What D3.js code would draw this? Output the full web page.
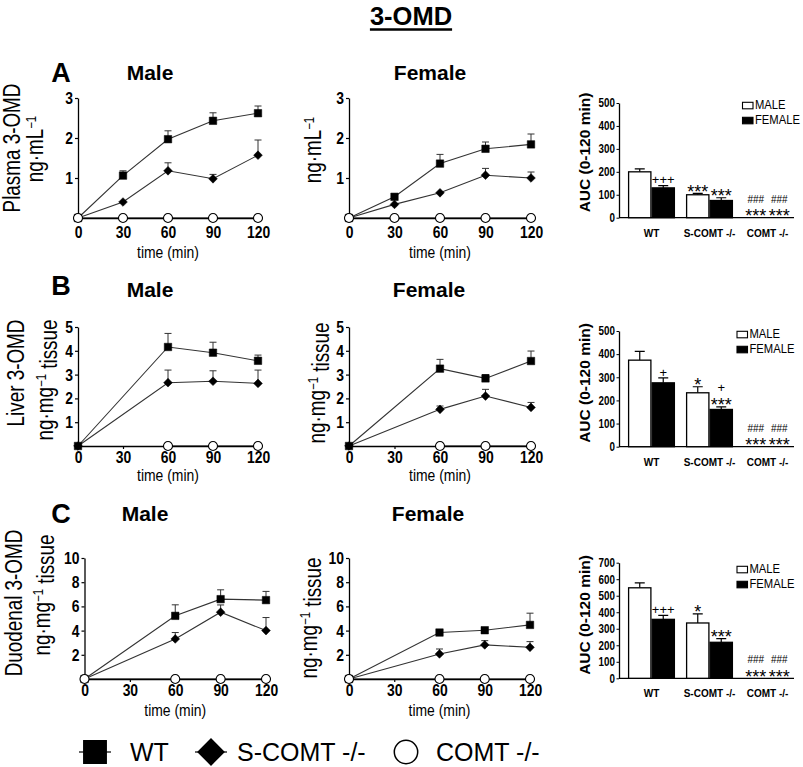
<!DOCTYPE html>
<html><head><meta charset="utf-8">
<script src="https://cdn.jsdelivr.net/npm/d3@7"></script>
<style>body{margin:0;background:#fff} svg{display:block}</style>
</head><body>
<script>
// ---------------- DATA ----------------
const timesAll = [0, 30, 60, 90, 120];
const timesTissue = [0, 60, 90, 120];
const timesTissueKO = [60, 90, 120];
const xTickVals = [0, 30, 60, 90, 120];

const plasmaYTicks = [1, 2, 3];
const liverYTicks = [1, 2, 3, 4, 5];
const duodYTicks = [2, 4, 6, 8, 10];

// Plasma (ng/mL)
const plasmaMaleWT = [0, 1.06, 1.97, 2.43, 2.62];
const plasmaMaleWTErr = [0, 0.12, 0.21, 0.20, 0.18];
const plasmaMaleS = [0, 0.40, 1.18, 0.98, 1.57];
const plasmaMaleSErr = [0, 0, 0.20, 0.11, 0.38];
const plasmaMaleKO = [0, 0, 0, 0, 0];
const plasmaFemaleWT = [0, 0.53, 1.36, 1.73, 1.84];
const plasmaFemaleWTErr = [0, 0, 0.23, 0.17, 0.26];
const plasmaFemaleS = [0, 0.34, 0.63, 1.07, 1.00];
const plasmaFemaleSErr = [0, 0, 0, 0.17, 0.15];
const plasmaFemaleKO = [0, 0, 0, 0, 0];

// Liver (ng/mg tissue)
const liverMaleWT = [0, 4.16, 3.92, 3.58];
const liverMaleWTErr = [0, 0.57, 0.44, 0.24];
const liverMaleS = [0, 2.66, 2.72, 2.63];
const liverMaleSErr = [0, 0.53, 0.44, 0.56];
const liverMaleKO = [0, 0, 0];
const liverFemaleWT = [0, 3.25, 2.84, 3.57];
const liverFemaleWTErr = [0, 0.39, 0.16, 0.42];
const liverFemaleS = [0, 1.54, 2.10, 1.62];
const liverFemaleSErr = [0, 0.14, 0.28, 0.21];
const liverFemaleKO = [0, 0, 0];

// Duodenal (ng/mg tissue)
const duodMaleWT = [0, 5.22, 6.60, 6.52];
const duodMaleWTErr = [0, 0.91, 0.77, 0.72];
const duodMaleS = [0, 3.31, 5.52, 4.00];
const duodMaleSErr = [0, 0.53, 0.60, 1.08];
const duodMaleKO = [0, 0, 0, 0];
const duodFemaleWT = [0, 3.84, 4.03, 4.47];
const duodFemaleWTErr = [0, 0.10, 0.10, 0.97];
const duodFemaleS = [0, 2.07, 2.82, 2.62];
const duodFemaleSErr = [0, 0.41, 0.35, 0.47];
const duodFemaleKO = [0, 0, 0, 0];

// AUC bars
const aucGroups = ["WT", "S-COMT -/-", "COMT -/-"];
const sexes = ["MALE", "FEMALE"];
const plasmaAUCMale = [200, 100, 0];
const plasmaAUCMaleErr = [13, 6, 0];
const plasmaAUCFemale = [130, 75, 0];
const plasmaAUCFemaleErr = [10, 12, 0];
const liverAUCMale = [374, 233, 0];
const liverAUCMaleErr = [38, 26, 0];
const liverAUCFemale = [276, 161, 0];
const liverAUCFemaleErr = [21, 11, 0];
const duodAUCMale = [548, 335, 0];
const duodAUCMaleErr = [30, 55, 0];
const duodAUCFemale = [357, 218, 0];
const duodAUCFemaleErr = [24, 22, 0];
const plasmaAUCTicks = [0, 100, 200, 300, 400, 500];
const liverAUCTicks = [0, 100, 200, 300, 400, 500];
const duodAUCTicks = [0, 100, 200, 300, 400, 500, 600, 700];

// significance marks (bottom to top)
const plasmaSigMale = [[], ["***"], ["***", "###"]];
const plasmaSigFemale = [["+++"], ["***"], ["***", "###"]];
const liverSigMale = [[], ["*"], ["***", "###"]];
const liverSigFemale = [["+"], ["***", "+"], ["***", "###"]];
const duodSigMale = [[], ["*"], ["***", "###"]];
const duodSigFemale = [["+++"], ["***"], ["***", "###"]];

// ---------------- DRAWING ----------------
const FONT = "'Liberation Sans', Arial, Helvetica, sans-serif";
const NF = 0.82; // narrow factor
const svg = d3.select('body').append('svg').attr('width', 803).attr('height', 767);

function addText(parent, o) {
  let tr = `translate(${o.x},${o.y})`;
  if (o.rotate) tr += ` rotate(${o.rotate})`;
  if (o.narrow) tr += ` scale(${o.narrow === true ? NF : o.narrow},1)`;
  const t = parent.append('text').attr('transform', tr)
    .attr('text-anchor', o.anchor || 'middle')
    .style('font-family', FONT).style('font-size', o.size + 'px')
    .style('font-weight', o.weight || 'normal').attr('fill', '#000');
  if (o.text !== undefined) t.text(o.text);
  return t;
}
function unitLabel(parent, x, y, unit, tissue) {
  const t = addText(parent, {x, y, size: 23, rotate: -90, narrow: true});
  t.append('tspan').text('ng\u00B7' + unit);
  t.append('tspan').attr('dy', '-0.48em').style('font-size', '14px').text('\u22121');
  if (tissue) t.append('tspan').attr('dy', '0.48em').text(' tissue');
  return t;
}

// Title
const title = addText(svg, {x: 411, y: 24.5, text: '3-OMD', size: 25.5, weight: 'bold'});
const tb = title.node().getBBox();
svg.append('line').attr('x1', 411 + tb.x).attr('x2', 411 + tb.x + tb.width)
  .attr('y1', 29.5).attr('y2', 29.5).attr('stroke', '#000').attr('stroke-width', 2.5);

const sym = {
  square: d3.symbol().type(d3.symbolSquare).size(56),
  diamond: d3.symbol().type(d3.symbolSquare).size(38),
  circle: d3.symbol().type(d3.symbolCircle).size(64)
};

function linePanel(c) {
  const g = svg.append('g');
  const x = d3.scaleLinear().domain([0, 120]).range(c.xr);
  const y = d3.scaleLinear().domain([0, c.max]).range(c.yr);
  const xa = g.append('g').attr('transform', `translate(0,${c.yr[0]})`)
    .call(d3.axisBottom(x).tickValues(xTickVals).tickFormat(d3.format('d')).tickSize(3).tickSizeOuter(0).tickPadding(c.tickPad));
  const ya = g.append('g').attr('transform', `translate(${c.xr[0]},0)`)
    .call(d3.axisLeft(y).tickValues(c.yt).tickFormat(d3.format('d')).tickSize(3).tickSizeOuter(0).tickPadding(2));
  [xa, ya].forEach(a => {
    a.select('.domain').attr('stroke-width', 1.3);
    a.selectAll('.tick line').attr('stroke-width', 1.2);
    a.selectAll('.tick text').each(function () {
      const t = d3.select(this);
      const xx = +t.attr('x') || 0;
      t.attr('x', xx / NF).attr('transform', `scale(${NF},1)`);
    }).style('font-family', FONT).style('font-size', '17px').style('font-weight', 'bold').attr('fill', '#000');
  });
  addText(g, {x: (c.xr[0] + c.xr[1]) / 2, y: c.timeY, text: 'time (min)', size: 17, narrow: true});
  c.series.forEach(s => {
    const pts = s.t.map((t, i) => ({t, v: s.v[i], e: s.e ? s.e[i] : 0}));
    g.append('path').datum(pts).attr('fill', 'none').attr('stroke', s.m === 'circle' ? '#000' : '#333')
      .attr('stroke-width', 1.1)
      .attr('d', d3.line().x(d => x(d.t)).y(d => y(d.v)));
    const eb = pts.filter(d => d.e > 0.02);
    g.selectAll(null).data(eb).join('path').attr('fill', 'none').attr('stroke', '#333').attr('stroke-width', 1)
      .attr('d', d => `M${x(d.t)},${y(d.v)}V${y(d.v + d.e)}M${x(d.t) - 3.5},${y(d.v + d.e)}H${x(d.t) + 3.5}`);
    g.selectAll(null).data(pts).join('path')
      .attr('transform', d => `translate(${x(d.t)},${y(d.v)})` + (s.m === 'diamond' ? ' rotate(45)' : ''))
      .attr('d', sym[s.m]())
      .attr('fill', s.m === 'circle' ? '#fff' : '#000')
      .attr('stroke', '#000').attr('stroke-width', s.m === 'circle' ? 1.1 : 0.5);
  });
}

const linePanels = [
  {xr: [78, 258], yr: [218, 98], max: 3, yt: plasmaYTicks, tickPad: 5, timeY: 257.5, series: [
    {t: timesAll, v: plasmaMaleWT, e: plasmaMaleWTErr, m: 'square'},
    {t: timesAll, v: plasmaMaleS, e: plasmaMaleSErr, m: 'diamond'},
    {t: timesAll, v: plasmaMaleKO, e: null, m: 'circle'}]},
  {xr: [349, 531], yr: [218, 98], max: 3, yt: plasmaYTicks, tickPad: 5, timeY: 257.5, series: [
    {t: timesAll, v: plasmaFemaleWT, e: plasmaFemaleWTErr, m: 'square'},
    {t: timesAll, v: plasmaFemaleS, e: plasmaFemaleSErr, m: 'diamond'},
    {t: timesAll, v: plasmaFemaleKO, e: null, m: 'circle'}]},
  {xr: [78, 258], yr: [446, 327], max: 5, yt: liverYTicks, tickPad: 1.5, timeY: 481, series: [
    {t: timesTissueKO, v: liverMaleKO, e: null, m: 'circle'},
    {t: timesTissue, v: liverMaleS, e: liverMaleSErr, m: 'diamond'},
    {t: timesTissue, v: liverMaleWT, e: liverMaleWTErr, m: 'square'}]},
  {xr: [349, 531], yr: [446, 327], max: 5, yt: liverYTicks, tickPad: 1.5, timeY: 481, series: [
    {t: timesTissueKO, v: liverFemaleKO, e: null, m: 'circle'},
    {t: timesTissue, v: liverFemaleS, e: liverFemaleSErr, m: 'diamond'},
    {t: timesTissue, v: liverFemaleWT, e: liverFemaleWTErr, m: 'square'}]},
  {xr: [84.5, 266], yr: [679, 558], max: 10, yt: duodYTicks, tickPad: 2, timeY: 716, series: [
    {t: timesTissue, v: duodMaleWT, e: duodMaleWTErr, m: 'square'},
    {t: timesTissue, v: duodMaleS, e: duodMaleSErr, m: 'diamond'},
    {t: timesTissue, v: duodMaleKO, e: null, m: 'circle'}]},
  {xr: [349, 530], yr: [679, 558], max: 10, yt: duodYTicks, tickPad: 2, timeY: 716, series: [
    {t: timesTissue, v: duodFemaleWT, e: duodFemaleWTErr, m: 'square'},
    {t: timesTissue, v: duodFemaleS, e: duodFemaleSErr, m: 'diamond'},
    {t: timesTissue, v: duodFemaleKO, e: null, m: 'circle'}]}
];
linePanels.forEach(linePanel);

// Panel letters and titles
[['A', 82], ['B', 295], ['C', 523]].forEach(([l, yy]) => addText(svg, {x: 61, y: yy, text: l, size: 27, weight: 'bold'}));
[[150, 79.5, 'Male'], [430, 79.5, 'Female'], [150, 296.5, 'Male'], [429, 296.5, 'Female'], [145, 521, 'Male'], [428, 521, 'Female']]
  .forEach(([xx, yy, t]) => addText(svg, {x: xx, y: yy, text: t, size: 21, weight: 'bold'}));

// Y labels
addText(svg, {x: 20, y: 148, text: 'Plasma 3-OMD', size: 23, rotate: -90, narrow: true});
unitLabel(svg, 43, 149, 'mL', false);
unitLabel(svg, 321, 150, 'mL', false);
addText(svg, {x: 24, y: 373, text: 'Liver 3-OMD', size: 23, rotate: -90, narrow: true});
unitLabel(svg, 53, 380, 'mg', true);
unitLabel(svg, 325, 383, 'mg', true);
addText(svg, {x: 22, y: 603, text: 'Duodenal 3-OMD', size: 23, rotate: -90, narrow: true});
unitLabel(svg, 50, 595, 'mg', true);
unitLabel(svg, 317, 618, 'mg', true);

// Bar panels
function barPanel(c) {
  const g = svg.append('g');
  const y = d3.scaleLinear().domain([0, c.max]).range(c.yr);
  const gx = d3.scaleBand().domain(aucGroups).range([628, 791]).paddingInner(0.19).paddingOuter(0);
  const sx = d3.scaleBand().domain(sexes).range([0, gx.bandwidth()]);
  const ya = g.append('g').attr('transform', `translate(619,0)`)
    .call(d3.axisLeft(y).tickValues(c.ticks).tickSize(2.5).tickSizeOuter(0).tickPadding(1.5));
  ya.select('.domain').attr('stroke-width', 1.3);
  ya.selectAll('.tick text').each(function () {
    const t = d3.select(this);
    t.attr('x', (+t.attr('x')) / NF).attr('transform', `scale(${NF},1)`);
  }).style('font-family', FONT).style('font-size', '12px').style('font-weight', 'bold').attr('fill', '#000');
  const xa = g.append('g').attr('transform', `translate(0,${c.yr[0]})`)
    .call(d3.axisBottom(gx).tickSize(0).tickPadding(12));
  xa.select('.domain').remove();
  xa.selectAll('.tick text').style('font-family', FONT).style('font-size', '10px').style('font-weight', 'bold').attr('fill', '#000');
  g.append('line').attr('x1', 619).attr('x2', 794).attr('y1', c.yr[0]).attr('y2', c.yr[0]).attr('stroke', '#000').attr('stroke-width', 1.3);

  const data = [];
  aucGroups.forEach((grp, i) => {
    data.push({grp, sex: 'MALE', v: c.male[i], e: c.maleErr[i], sig: c.sigM[i]});
    data.push({grp, sex: 'FEMALE', v: c.female[i], e: c.femaleErr[i], sig: c.sigF[i]});
  });
  const bx = d => gx(d.grp) + sx(d.sex);
  const bw = sx.bandwidth();
  const bars = data.filter(d => d.v > 0);
  g.selectAll(null).data(bars).join('path').attr('stroke', '#000').attr('stroke-width', 1.2).attr('fill', 'none')
    .attr('d', d => `M${bx(d) + bw / 2},${y(d.v)}V${y(d.v + d.e)}M${bx(d) + bw / 2 - 5},${y(d.v + d.e)}H${bx(d) + bw / 2 + 5}`);
  g.selectAll(null).data(bars).join('rect')
    .attr('x', d => bx(d) + 0.6).attr('width', bw - 1.2)
    .attr('y', d => y(d.v)).attr('height', d => y(0) - y(d.v))
    .attr('fill', d => d.sex === 'MALE' ? '#fff' : '#000').attr('stroke', '#000').attr('stroke-width', 1.3);
  const symStyle = {'*': [18, 0.58, 0], '+': [13, 0.355, 14], '#': [10, 0.35, 12.5]};
  data.forEach(d => {
    const top = y(d.v + d.e);
    let cy = top - 6;
    d.sig.forEach((s, k) => {
      const [sz, off, gap] = symStyle[s[0]];
      if (k > 0) cy -= gap;
      addText(g, {x: bx(d) + bw / 2, y: cy + off * sz, text: s, size: sz});
    });
  });
  addText(g, {x: 590, y: c.labelY, text: 'AUC (0-120 min)', size: 15.5, weight: 'bold', rotate: -90});
  // legend
  sexes.forEach((s, k) => {
    const ly = c.leg[1] + k * 15;
    g.append('rect').attr('x', c.leg[0]).attr('y', ly - 7).attr('width', 10.5).attr('height', 6.5)
      .attr('fill', s === 'MALE' ? '#fff' : '#000').attr('stroke', '#000').attr('stroke-width', 1.1);
    addText(g, {x: c.leg[0] + 12.5, y: ly, text: s, size: 12.5, anchor: 'start', narrow: 0.9});
  });
}
barPanel({yr: [217.7, 103], max: 500, ticks: plasmaAUCTicks, male: plasmaAUCMale, maleErr: plasmaAUCMaleErr,
  female: plasmaAUCFemale, femaleErr: plasmaAUCFemaleErr, sigM: plasmaSigMale, sigF: plasmaSigFemale, labelY: 152.5, leg: [742.5, 109.3]});
barPanel({yr: [446.7, 331], max: 500, ticks: liverAUCTicks, male: liverAUCMale, maleErr: liverAUCMaleErr,
  female: liverAUCFemale, femaleErr: liverAUCFemaleErr, sigM: liverSigMale, sigF: liverSigFemale, labelY: 383, leg: [737, 338.3]});
barPanel({yr: [678.3, 562.7], max: 700, ticks: duodAUCTicks, male: duodAUCMale, maleErr: duodAUCMaleErr,
  female: duodAUCFemale, femaleErr: duodAUCFemaleErr, sigM: duodSigMale, sigF: duodSigFemale, labelY: 615, leg: [737, 573.3]});

// Bottom legend
const lg = svg.append('g');
const legendItems = [
  {m: 'square', label: 'WT', cx: 95, tx: 130},
  {m: 'diamond', label: 'S-COMT -/-', cx: 211, tx: 237},
  {m: 'circle', label: 'COMT -/-', cx: 406, tx: 436}
];
const bigSym = {
  square: d3.symbol().type(d3.symbolSquare).size(500),
  diamond: d3.symbol().type(d3.symbolSquare).size(330),
  circle: d3.symbol().type(d3.symbolCircle).size(430)
};
legendItems.forEach(it => {
  if (it.m !== 'circle') lg.append('line').attr('x1', it.cx - 16).attr('x2', it.cx + 16).attr('y1', 752).attr('y2', 752).attr('stroke', '#000').attr('stroke-width', 1.2);
  lg.append('path').attr('transform', `translate(${it.cx},752)` + (it.m === 'diamond' ? ' rotate(45)' : ''))
    .attr('d', bigSym[it.m]()).attr('fill', it.m === 'circle' ? '#fff' : '#000').attr('stroke', '#000').attr('stroke-width', 1.5);
  addText(lg, {x: it.tx, y: 760.5, text: it.label, size: 25, anchor: 'start'});
});
</script>
</body></html>
